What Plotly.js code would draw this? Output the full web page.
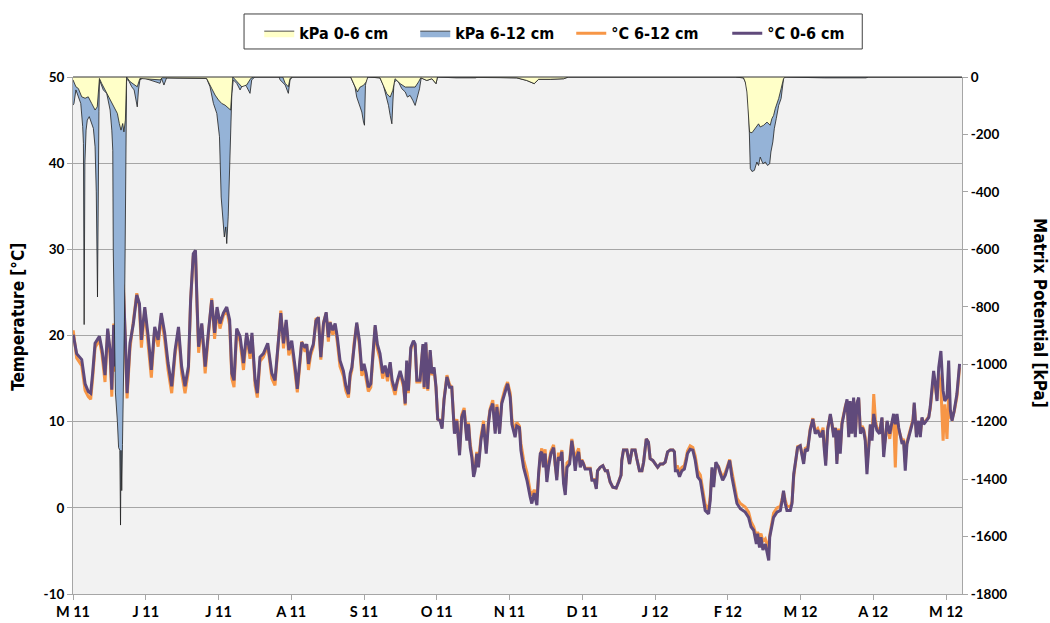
<!DOCTYPE html>
<html>
<head>
<meta charset="utf-8">
<script src="https://cdn.plot.ly/plotly-3.0.1.min.js"></script>
<style>
  html, body { margin: 0; padding: 0; background: #ffffff; }
  #chart { width: 1050px; height: 623px; }
</style>
</head>
<body>
<div id="chart"></div>
<script>
// ---------- DATA ----------
// x axis: day offset from the first tick (labelled "M 11")
const xTickDays = [0, 30, 60, 90, 120, 150, 180, 210, 240, 270, 300, 330, 360];
const xTickLabels = ["M 11", "J 11", "J 11", "A 11", "S 11", "O 11", "N 11", "D 11", "J 12", "F 12", "M 12", "A 12", "M 12"];
const tempTicks = [-10, 0, 10, 20, 30, 40, 50];
const kpaTicks = [-1800, -1600, -1400, -1200, -1000, -800, -600, -400, -200, 0];

// temperature readings
const tempDays = [
  0.1,1.5,3.6,5.0,6.3,7.3,8.1,9.1,10.9,12.0,13.2,14.3,15.3,16.0,16.8,17.5,18.2,18.8,19.7,20.8,
  21.6,22.3,23.5,24.9,26.3,27.4,28.2,29.6,31.0,32.3,33.7,35.1,36.4,37.8,39.2,40.7,42.1,43.5,44.8,46.2,
  47.6,48.5,49.6,50.5,51.2,51.8,53.1,54.5,55.8,57.2,58.4,59.4,60.6,62.0,63.4,64.6,65.5,66.4,67.5,68.9,
  70.3,71.6,73.0,73.8,75.1,76.0,77.1,78.5,80.3,82.0,83.3,84.7,85.7,86.8,87.9,89.0,
  90.2,91.6,92.5,93.7,94.3,95.7,96.4,97.1,98.0,99.1,100.2,101.2,102.2,103.3,104.4,105.3,106.0,107.1,108.1,109.0,
  110.1,111.5,112.5,113.6,114.3,115.0,115.9,117.0,118.1,119.1,120.0,120.9,121.8,122.8,123.6,124.6,125.5,126.6,127.7,128.7,
  129.7,130.8,131.6,132.8,133.8,134.9,136.3,137.0,137.6,138.3,139.3,140.4,141.1,141.8,143.1,144.3,144.8,145.5,146.3,147.3,
  148.0,148.9,149.7,150.4,151.4,152.2,153.0,154.2,155.3,156.2,157.3,158.3,159.4,160.3,161.3,162.4,163.1,163.8,164.5,165.2,
  165.8,166.5,167.2,168.2,169.3,170.4,171.3,172.0,173.1,174.1,174.8,175.9,176.8,178.2,179.2,180.3,181.0,
  182.3,183.0,184.1,184.7,185.8,187.2,188.5,189.2,190.2,191.3,192.0,192.7,193.3,194.0,194.7,195.4,196.1,197.1,198.2,198.8,
  199.5,200.2,200.9,201.6,202.3,203.0,203.7,204.8,205.7,206.4,207.1,207.8,208.5,209.2,209.8,210.5,211.2,213.3,214.0,215.0,
  215.8,216.3,217.4,218.5,219.5,220.4,221.5,222.6,224.0,225.0,226.0,226.3,227.0,228.4,229.5,230.5,231.8,232.5,233.6,234.6,
  235.3,236.4,237.3,238.0,239.1,240.1,241.1,242.2,243.3,244.2,245.2,246.3,247.4,248.0,248.4,249.3,250.1,251.1,252.1,252.9,
  253.4,254.5,255.6,256.6,257.6,258.7,259.8,260.7,262.1,262.8,263.5,264.2,265.1,266.2,266.9,267.9,269.0,269.9,270.8,
  271.7,272.4,273.1,273.8,275.2,277.2,278.6,279.6,280.7,281.8,282.3,283.1,283.7,284.5,285.5,286.2,286.9,287.3,288.2,288.9,
  290.3,291.7,292.4,293.0,293.7,294.4,295.8,296.5,297.2,297.9,298.8,299.9,300.6,301.3,302.0,302.9,304.0,305.1,306.1,307.1,
  308.2,309.3,309.8,310.4,311.2,312.3,313.0,313.7,314.4,315.0,315.7,316.4,317.1,317.8,318.5,319.2,319.9,320.5,321.2,321.9,
  322.6,323.3,324.0,324.7,325.4,326.0,326.7,327.4,328.1,328.8,329.5,330.2,330.9,331.5,332.6,333.6,334.3,335.0,335.7,336.8,
  337.7,338.4,339.1,339.8,340.5,341.2,341.9,342.5,343.2,343.9,344.6,345.3,346.4,346.9,347.8,348.7,349.4,350.1,350.8,351.9,
  352.9,353.5,354.2,354.9,355.6,356.3,357.0,357.9,358.8,359.5,360.4,361.1,361.8,362.5,363.4,364.5,365.6
];
// °C 0-6 cm (purple)
const temp0to6 = [
  20.1,17.9,17.2,14.4,13.5,13.3,15.6,19.1,19.9,18.3,15.4,20.8,18.3,13.7,21.2,16.4,21.6,13.7,19.5,25.3,
  19.5,13.3,19.1,21.4,24.7,23.7,19.5,23.3,19.9,16.0,21.0,19.5,22.6,20.3,16.8,14.1,18.3,21.0,16.4,14.1,
  16.4,24.1,29.5,29.9,23.3,18.7,21.4,16.4,20.3,24.1,20.3,23.3,21.4,22.6,23.3,21.8,15.6,14.8,20.8,19.9,
  16.8,20.3,17.9,20.3,14.8,13.3,17.5,17.9,19.1,15.6,14.8,19.5,22.6,19.1,21.8,18.3,
  19.4,16.3,13.8,17.5,19.2,18.6,19.0,16.7,18.1,19.0,21.7,22.1,17.5,21.4,22.7,19.8,21.5,20.6,21.4,19.8,
  17.1,15.9,14.2,13.2,15.6,16.3,19.0,21.5,19.4,15.9,16.7,15.6,14.0,14.4,17.5,21.2,19.0,17.9,15.6,16.5,
  15.2,16.9,14.8,13.6,14.8,15.9,14.4,12.1,17.1,13.6,18.6,19.4,19.0,14.8,14.8,19.0,14.0,19.2,13.8,18.3,
  15.6,16.3,14.0,10.3,10.1,9.2,12.5,15.2,14.0,14.0,8.6,10.1,6.1,10.5,11.3,7.8,9.7,7.0,5.8,3.6,
  4.3,6.3,4.7,7.8,9.7,6.3,9.7,11.3,12.1,8.6,11.7,8.6,12.1,13.6,14.4,12.8,9.7,
  8.2,9.5,9.3,6.7,4.7,3.2,1.3,0.5,1.7,0.3,4.0,6.3,6.5,4.7,6.3,3.0,4.7,6.3,7.0,4.7,
  3.2,5.9,5.5,6.5,2.8,1.5,4.7,5.1,7.8,6.3,4.3,5.9,6.5,4.7,5.5,5.1,4.5,4.5,3.2,3.2,
  2.2,4.3,4.7,4.9,4.3,4.3,3.0,2.4,2.3,3.0,3.8,5.5,6.7,6.7,5.1,6.7,6.7,5.7,4.3,4.3,
  5.3,8.0,7.6,5.7,5.5,5.1,4.7,5.1,5.1,5.3,6.5,6.7,6.7,6.5,4.3,4.3,3.6,4.3,4.5,5.5,
  6.3,6.8,6.7,5.5,3.6,3.2,1.3,-0.3,-0.7,0.9,4.7,2.4,5.3,4.7,4.0,3.2,3.8,4.7,5.5,
  3.6,2.4,1.6,0.5,-0.1,-0.5,-1.1,-2.2,-2.6,-4.2,-3.0,-4.6,-3.4,-4.9,-4.2,-5.3,-6.1,-3.4,-1.9,-1.1,
  -0.5,-0.3,0.8,2.0,0.5,-0.3,-0.3,0.5,3.9,5.5,7.0,7.2,6.3,5.1,6.8,6.6,9.0,10.3,8.6,9.0,
  8.2,9.0,6.8,4.9,9.0,10.9,9.7,8.2,9.3,5.1,9.0,6.3,9.7,10.9,11.7,12.6,8.2,12.4,8.6,12.8,
  8.2,12.2,12.8,8.6,9.3,9.0,7.8,3.9,7.4,9.7,7.8,10.9,9.7,9.0,8.6,10.5,5.9,7.8,10.1,8.6,
  10.1,10.9,9.7,10.9,9.3,8.2,7.4,7.8,4.3,7.4,8.2,9.0,10.1,12.2,8.2,10.1,8.2,10.5,9.7,10.1,
  10.5,11.7,14.0,15.9,14.4,12.4,16.3,18.2,13.6,12.4,12.8,17.1,11.3,10.1,11.3,13.2,16.7
];
// °C 6-12 cm (orange)
const temp6to12 = [
  20.6,17.4,16.5,13.6,12.9,12.6,15.0,18.6,19.5,17.7,14.6,20.5,17.6,12.9,21.4,15.8,21.3,13.0,19.0,25.9,
  19.0,12.7,18.5,21.5,24.9,23.2,18.6,23.0,19.2,15.1,20.8,18.7,22.3,19.5,16.0,13.3,17.8,20.5,15.6,13.3,
  15.9,24.0,29.2,29.6,23.0,18.0,21.2,15.6,19.9,24.3,19.6,23.0,20.8,22.3,23.0,21.2,15.0,14.0,20.5,19.3,
  16.0,20.0,17.3,20.0,14.2,12.8,17.0,17.5,18.8,15.0,14.2,19.2,22.9,18.5,21.5,17.7,
  18.8,15.6,13.4,17.1,19.3,18.1,18.8,16.0,17.7,18.7,21.9,22.0,17.2,21.5,22.6,19.3,21.6,20.1,21.0,19.2,
  16.4,15.3,13.6,12.8,15.2,16.0,19.1,21.3,18.9,15.3,16.3,14.9,13.5,14.0,17.3,21.0,18.5,17.3,15.0,16.2,
  14.7,16.7,14.3,13.1,14.6,15.6,14.0,11.9,16.8,13.3,18.4,19.2,18.8,14.6,14.6,18.8,13.8,19.0,13.6,18.1,
  15.4,16.1,13.9,10.3,10.2,9.4,12.6,15.4,14.3,14.0,8.9,10.3,6.5,10.8,11.6,8.1,9.9,7.4,6.2,4.1,
  4.6,6.5,5.0,8.2,10.1,6.7,10.0,11.5,12.5,9.0,12.0,9.0,12.4,13.9,14.6,13.3,10.3,
  8.8,9.9,9.5,7.5,5.6,4.1,2.0,1.4,2.1,1.2,3.5,6.0,6.9,5.0,6.8,3.5,5.2,6.6,7.3,5.0,
  3.6,6.4,5.8,6.7,3.3,2.0,5.2,5.5,8.0,6.8,4.9,6.4,6.9,5.0,5.6,5.2,4.6,4.6,3.3,3.3,
  2.3,4.3,4.7,4.9,4.3,4.3,3.0,2.4,2.3,3.0,3.8,5.5,6.7,6.7,5.1,6.7,6.7,5.7,4.3,4.3,
  5.3,8.0,7.6,5.7,5.5,5.1,4.7,5.1,5.1,5.3,6.5,6.7,6.7,6.5,4.8,4.8,4.2,4.7,4.9,5.9,
  6.6,7.2,7.0,6.0,4.3,3.8,2.0,0.4,-0.2,1.4,4.4,2.9,5.0,4.8,4.2,3.5,4.1,4.9,5.6,
  4.2,3.0,2.2,1.1,0.5,0.1,-0.5,-1.6,-2.2,-3.3,-2.8,-3.4,-3.0,-3.9,-3.6,-4.3,-4.8,-3.2,-1.4,-0.6,
  0.0,0.2,1.0,1.8,0.9,0.2,0.1,0.7,3.6,5.3,7.1,7.2,6.4,5.4,7.0,6.8,9.2,10.4,8.9,9.2,
  8.4,9.3,7.2,5.5,9.3,10.7,9.6,8.5,9.3,5.5,9.2,6.7,9.9,11.0,11.8,12.4,8.6,12.2,9.0,12.6,
  8.6,12.0,12.6,9.0,9.5,9.2,8.2,4.9,7.8,9.6,8.2,13.2,10.2,9.3,8.9,10.4,6.8,8.0,10.0,8.0,
  9.8,10.6,4.7,10.5,9.0,8.4,7.8,8.0,5.3,7.6,8.4,9.2,10.3,12.0,8.6,10.0,8.5,10.4,9.8,10.2,
  10.6,11.5,13.6,15.2,14.2,12.6,15.6,14.0,7.8,12.0,8.0,13.0,10.5,10.3,11.2,12.9,16.3
];

// matrix potential, 6-12 cm (blue)
const kpaDays6to12 = [
  0.0,0.4,1.2,2.2,3.2,4.0,4.3,4.6,4.9,5.4,5.9,6.7,7.7,8.4,9.1,9.6,10.1,10.4,10.7,10.9,
  11.4,12.5,13.9,15.3,16.0,16.4,16.6,17.0,17.5,18.3,18.8,19.3,19.6,19.8,20.1,20.4,20.8,21.2,21.5,21.8,
  22.1,22.8,24.2,25.2,26.0,26.5,27.0,27.6,29.0,35.9,36.5,37.5,38.6,49.6,55.1,56.5,57.9,59.3,60.4,61.1,
  61.7,62.4,63.0,63.4,64.0,64.5,65.0,65.5,66.1,67.5,68.9,70.3,71.6,73.0,73.7,75.0,85.0,85.4,87.5,88.8,
  89.5,90.5,114.5,115.4,116.3,117.0,117.7,118.4,119.1,119.8,120.2,120.6,121.1,121.6,126.6,128.0,128.7,129.4,130.1,130.8,
  131.5,131.9,132.4,133.5,134.2,135.6,137.0,137.9,139.0,140.1,141.1,142.0,142.9,143.6,145.9,148.0,149.7,150.3,158.0,166.0,
  167.0,183.0,187.1,190.2,192.0,196.8,202.3,204.3,273.1,276.5,277.2,277.9,278.6,279.0,279.3,280.0,281.0,282.0,282.7,283.4,
  284.5,285.5,286.4,287.3,287.8,288.6,289.2,290.0,291.0,292.0,292.4,293.0,293.7,310.0,327.0,328.0,366.6
];
const kpa6to12 = [
  -98,-92,-45,-69,-92,-173,-231,-862,-300,-185,-150,-138,-167,-179,-243,-400,-766,-300,-120,-10,
  -22,-45,-57,-115,-185,-255,-600,-900,-1100,-1200,-1290,-1300,-1560,-1300,-1440,-1280,-1100,-850,-600,-200,
  -10,-10,-34,-45,-80,-104,-45,-10,-3,-22,-5,-28,-3,-5,-5,-34,-92,-127,-208,-418,
  -499,-557,-522,-580,-487,-325,-150,-57,-10,-22,-45,-22,-34,-57,-10,0,0,-10,-28,-57,
  -10,0,0,-17,-35,-70,-87,-110,-122,-157,-168,-29,-6,0,-3,-29,-52,-75,-99,-134,
  -163,-87,-17,-12,-17,-41,-52,-70,-64,-81,-99,-70,-41,-3,-12,-6,-23,0,-3,-3,
  0,-3,-12,-23,-8,-8,-6,0,0,-3,-17,-30,-99,-215,-319,-329,-325,-296,-308,-279,
  -302,-296,-308,-302,-261,-226,-180,-145,-99,-75,-52,-6,0,-3,-3,0,0
];

// matrix potential, 0-6 cm (yellow)
const kpaDays0to6 = [
  0.0,1.2,2.2,3.6,5.0,6.3,7.7,9.1,10.0,10.9,11.8,13.2,14.6,16.0,17.3,18.3,19.1,19.8,20.5,21.0,
  21.6,22.1,23.5,25.6,26.5,27.6,35.9,36.8,55.1,57.2,58.6,60.0,61.3,62.7,64.1,65.0,65.9,67.5,69.6,71.6,
  73.3,74.5,86.5,87.5,88.8,89.5,90.5,114.5,115.4,116.3,117.3,118.4,119.8,120.9,121.6,126.6,128.0,129.4,130.8,131.9,
  132.8,133.5,134.9,137.0,139.0,141.1,142.5,143.4,145.9,148.0,149.7,150.3,183.0,187.1,190.2,192.0,196.8,202.3,204.3,273.1,
  276.5,277.2,277.9,278.6,279.0,280.0,281.4,282.7,283.4,284.8,286.2,287.5,288.2,288.9,289.6,291.0,292.0,293.0,293.7,366.6
];
const kpa0to6 = [
  -10,-34,-40,-69,-74,-69,-92,-115,-104,-5,-22,-45,-69,-92,-109,-127,-162,-185,-162,-191,
  -150,0,-16,-28,-34,-5,-10,-3,-5,-40,-63,-80,-92,-98,-109,-115,0,-16,-34,-28,
  -5,0,0,-22,-34,-5,0,0,-17,-35,-52,-35,-29,-17,0,-3,-29,-58,-70,-46,
  -6,-12,-23,-35,-35,-35,-17,-3,-12,-6,-23,0,-3,-12,-23,-8,-8,-6,0,0,
  -3,-17,-52,-122,-192,-194,-180,-163,-174,-168,-157,-168,-145,-134,-110,-75,-41,-6,0,0
];

// ---------- CHART ----------
const condFamily = "DejaVu Sans Condensed, Noto Sans, sans-serif";
const titleFont = { family: condFamily, size: 17, color: "#000000", weight: 700 };
const legendFont = { family: condFamily, size: 16, color: "#000000", weight: 700 };
const tickFont = { family: "Lato, Liberation Sans, sans-serif", size: 13.5, color: "#000000", weight: 700 };
const gridCol = "#a6a6a6";

const traces = [
  {
    x: kpaDays6to12, y: kpa6to12, yaxis: "y2", type: "scatter", mode: "lines",
    name: "kPa 6-12 cm", fill: "tozeroy", fillcolor: "#95b3d7",
    line: { color: "#1f1f1f", width: 0.8 }, legendrank: 2, hoverinfo: "skip"
  },
  {
    x: kpaDays0to6, y: kpa0to6, yaxis: "y2", type: "scatter", mode: "lines",
    name: "kPa 0-6 cm", fill: "tozeroy", fillcolor: "#ffffc8",
    line: { color: "#1f1f1f", width: 0.8 }, legendrank: 1, hoverinfo: "skip"
  },
  {
    x: tempDays, y: temp6to12, yaxis: "y", type: "scatter", mode: "lines",
    name: "°C 6-12 cm", line: { color: "#f79646", width: 3 }, legendrank: 3
  },
  {
    x: tempDays, y: temp0to6, yaxis: "y", type: "scatter", mode: "lines",
    name: "°C 0-6 cm", line: { color: "#604a7b", width: 3 }, legendrank: 4
  }
];

const layout = {
  width: 1050, height: 623,
  margin: { l: 73, r: 88, t: 77, b: 29, pad: 0 },
  paper_bgcolor: "#ffffff",
  plot_bgcolor: "#f2f2f2",
  showlegend: true,
  legend: {
    orientation: "h", x: 0.2095, xanchor: "left", y: 1.1175, yanchor: "top",
    bgcolor: "rgba(0,0,0,0)", borderwidth: 0,
    font: legendFont, entrywidth: 111, entrywidthmode: "pixels",
    traceorder: "normal", itemclick: false
  },
  xaxis: {
    range: [0, 366.6], showgrid: false, zeroline: false,
    tickmode: "array", tickvals: xTickDays, ticktext: xTickLabels,
    ticks: "outside", ticklen: 5, tickcolor: gridCol,
    showline: true, linecolor: gridCol, linewidth: 1,
    tickfont: { family: "Lato, Liberation Sans, sans-serif", size: 14.5, color: "#000000", weight: 700 }
  },
  yaxis: {
    range: [-10, 50], tickmode: "array", tickvals: tempTicks, ticktext: tempTicks.map(String),
    showgrid: true, gridcolor: gridCol, gridwidth: 1, zeroline: false,
    ticks: "outside", ticklen: 5, tickcolor: gridCol,
    showline: true, linecolor: gridCol, linewidth: 1,
    tickfont: tickFont
  },
  yaxis2: {
    range: [-1800, 0], overlaying: "y", side: "right",
    tickmode: "array", tickvals: kpaTicks, ticktext: kpaTicks.map(String),
    showgrid: false, zeroline: false,
    ticks: "outside", ticklen: 5, tickcolor: gridCol,
    showline: true, linecolor: gridCol, linewidth: 1,
    tickfont: tickFont
  },
  shapes: [
    { type: "line", xref: "paper", yref: "paper", x0: 0, x1: 1, y0: 1, y1: 1,
      line: { color: "#333333", width: 1 } },
    // legend frame
    { type: "rect", xref: "paper", yref: "paper", x0: 0.1924, x1: 0.8878, y0: 1.0542, y1: 1.1219,
      fillcolor: "#ffffff", line: { color: "#404040", width: 1 }, layer: "above" }
  ],
  annotations: [
    { text: "Temperature [°C]", xref: "paper", yref: "paper", x: -0.062, y: 0.536,
      xanchor: "center", yanchor: "middle", showarrow: false, textangle: -90, font: titleFont },
    { text: "Matrix Potential [kPa]", xref: "paper", yref: "paper", x: 1.087, y: 0.543,
      xanchor: "center", yanchor: "middle", showarrow: false, textangle: 90, font: titleFont }
  ]
};

Plotly.newPlot("chart", traces, layout, { displayModeBar: false, staticPlot: true });
</script>
</body>
</html>
